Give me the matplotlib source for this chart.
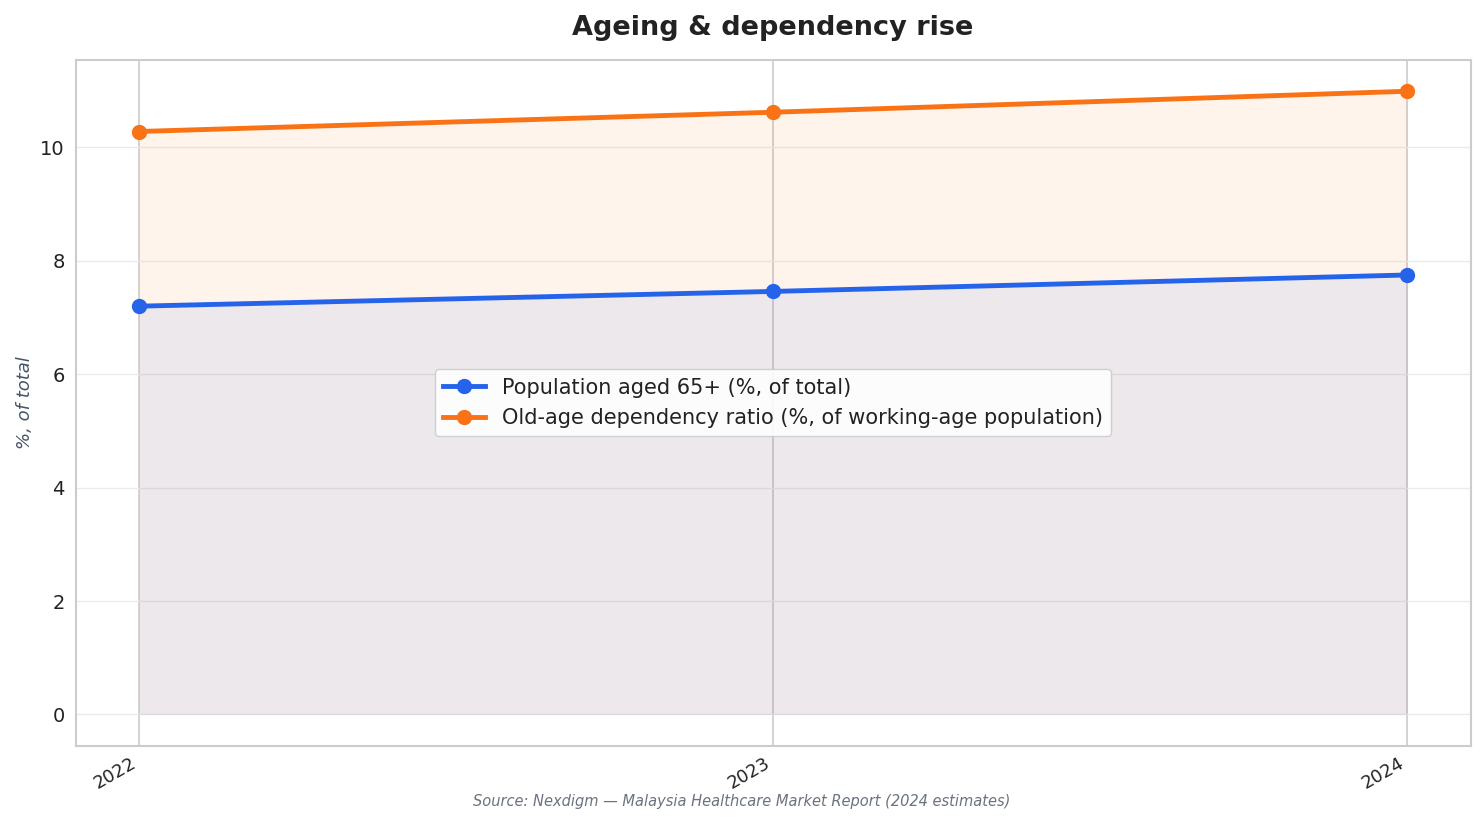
import numpy as np
import matplotlib
matplotlib.use("Agg")
import matplotlib.pyplot as plt

# data
years = ["2022", "2023", "2024"]
pop65 = [7.20, 7.46, 7.75]
dependency = [10.28, 10.62, 10.99]

blue = "#2563eb"
orange = "#f97316"
txt = "#222222"

fig, ax = plt.subplots(figsize=(14.84, 8.23), dpi=100)
x = np.arange(len(years))

ax.plot(x, pop65, color=blue, lw=3.5, marker="o", ms=10,
        label="Population aged 65+ (%, of total)", zorder=3)
ax.plot(x, dependency, color=orange, lw=3.5, marker="o", ms=10,
        label="Old-age dependency ratio (%, of working-age population)", zorder=3)

# both areas go down to zero, the overlap gives the greyish tint
ax.fill_between(x, dependency, 0, color=orange, alpha=0.08, lw=0, zorder=1)
ax.fill_between(x, pop65, 0, color=blue, alpha=0.08, lw=0, zorder=1)

ax.set_xticks(x)
ax.set_xticklabels(years, rotation=30, ha="right", fontsize=13, color=txt)
ax.tick_params(axis="y", labelsize=14, labelcolor=txt, length=0, pad=8)
ax.tick_params(axis="x", length=0, pad=6)
ax.set_yticks([0, 2, 4, 6, 8, 10])

ax.grid(axis="y", color="#ebebeb", lw=1)
ax.grid(axis="x", color="#cccccc", lw=1.2)
ax.set_axisbelow(True)
for s in ax.spines.values():
    s.set_color("#cccccc")
    s.set_linewidth(1.5)

ax.set_ylabel("%, of total", fontsize=13, style="italic", color="#475569", labelpad=4)
ax.set_title("Ageing & dependency rise", fontsize=19.5, fontweight="bold",
             color=txt, pad=18)

leg = ax.legend(loc="center", fontsize=15, frameon=True, framealpha=0.9,
                edgecolor="#cccccc", handlelength=2, borderpad=0.4, labelcolor=txt)

fig.text(0.5, 0.021, "Source: Nexdigm — Malaysia Healthcare Market Report (2024 estimates)",
         ha="center", fontsize=10.5, style="italic", color="#6b7280")

fig.subplots_adjust(left=0.051, right=0.991, top=0.927, bottom=0.094)
fig.savefig("out.png", dpi=100)
